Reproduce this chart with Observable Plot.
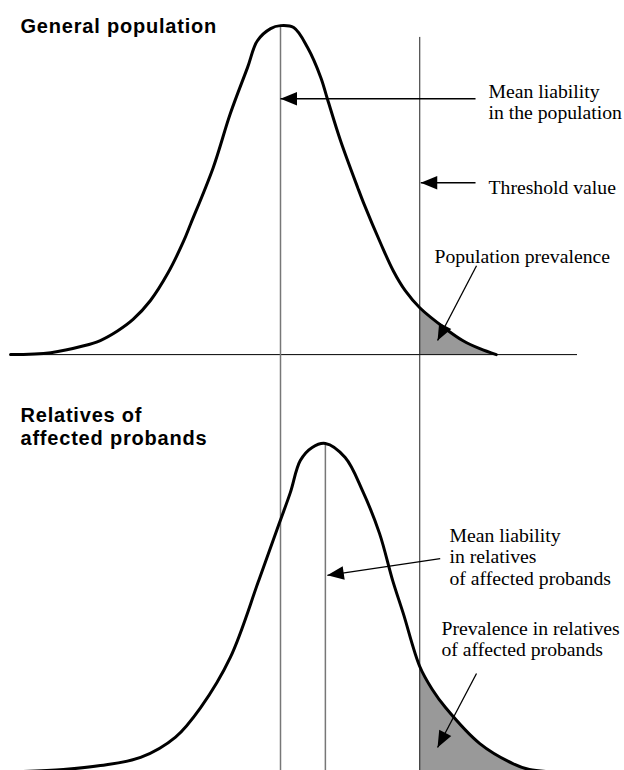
<!DOCTYPE html>
<html><head><meta charset="utf-8">
<script src="https://cdn.jsdelivr.net/npm/d3@7"></script>
<script src="https://cdn.jsdelivr.net/npm/@observablehq/plot@0.6"></script>
<style>
body{margin:0;background:#fff;}
#chart svg{display:block;background:#fff}
g[font-weight="bold"] text{letter-spacing:0.8px}
</style></head><body><div id="chart"></div>
<script>
// Liability (x, in SD units of the population) and relative density (y)
const popX = [-4.09,-3.48,-2.98,-2.73,-2.47,-2.23,-1.97,-1.71,-1.47,-1.36,-1.02,-0.76,-0.50,-0.35,-0.15,0,0.20,0.41,0.61,0.71,0.91,1.17,1.26,1.52,1.71,1.89,2.11,2.50,2.76,3.02,3.27];
const popDensity = [0,0.006,0.027,0.043,0.072,0.108,0.165,0.247,0.345,0.399,0.570,0.735,0.875,0.957,0.994,1.003,0.997,0.936,0.845,0.780,0.652,0.509,0.462,0.338,0.255,0.195,0.143,0.079,0.043,0.018,0];
const relX = [-3.9,-3.29,-2.73,-2.12,-1.59,-1.21,-0.76,-0.33,-0.02,0.15,0.30,0.48,0.68,0.98,1.24,1.50,1.70,1.86,2.11,2.30,2.50,3.02,3.52,3.77,4.02];
const relDensity = [0,0.006,0.018,0.043,0.105,0.195,0.348,0.582,0.756,0.851,0.948,0.988,1.0,0.957,0.857,0.726,0.582,0.482,0.320,0.250,0.195,0.085,0.024,0.006,0];
const popMean = 0;
const relMean = 0.68;
const threshold = 2.11;

const titles = ["General population", "Relatives of\naffected probands"];
const labels = ["Mean liability\nin the population", "Threshold value", "Population prevalence",
                "Mean liability\nin relatives\nof affected probands", "Prevalence in relatives\nof affected probands"];

// ---- layout (data units) ----
const D = 1.271; // vertical offset of the upper panel
const titleAt = [{x:-3.94, y:0.982, panel:"top"}, {x:-3.94, y:0.994, panel:"bottom"}];
const labelAt = [{x:3.152,y:0.7195,panel:"top"},{x:3.152,y:0.491,panel:"top"},{x:2.333,y:0.280,panel:"top"},
                 {x:2.561,y:0.570,panel:"bottom"},{x:2.439,y:0.351,panel:"bottom"}];
const arrowAt = [
  {x1:2.955,y1:0.780,x2:0,y2:0.780,panel:"top"},
  {x1:2.955,y1:0.524,x2:2.125,y2:0.524,panel:"top"},
  {x1:2.97,y1:0.271,x2:2.38,y2:0.043,panel:"top"},
  {x1:2.42,y1:0.649,x2:0.71,y2:0.598,panel:"bottom"},
  {x1:2.97,y1:0.299,x2:2.38,y2:0.073,panel:"bottom"}
];
const off = p => p === "top" ? D : 0;

const W = 624, H = 770;
const xDomain = [-280/66, (W-280)/66];
const yDomain = [0.00305, 0.00305 + H/328];
const sx = Plot.scale({x:{domain:xDomain, range:[0,W]}});
const sy = Plot.scale({y:{domain:yDomain, range:[H,0]}});

const pop = popX.map((x,i)=>({x, y: popDensity[i] + D}));
const rel = relX.map((x,i)=>({x, y: relDensity[i]}));
const popFill = pop.filter(d=>d.x >= threshold);
const relFill = rel.filter(d=>d.x >= threshold);

const arrows = arrowAt.map(a=>{
  const y1 = a.y1 + off(a.panel), y2 = a.y2 + off(a.panel);
  const dx = sx.apply(a.x2) - sx.apply(a.x1), dy = sy.apply(y2) - sy.apply(y1);
  return {x1:a.x1, y1, x2:a.x2, y2, angle: Math.atan2(dx, -dy)*180/Math.PI};
});
const head = {draw(ctx){ ctx.moveTo(0,0); ctx.lineTo(6.8,16.5); ctx.lineTo(-6.8,16.5); ctx.closePath(); }};

const titleData = titles.map((t,i)=>({text:t, x:titleAt[i].x, y:titleAt[i].y + off(titleAt[i].panel)}));
const labelData = labels.map((t,i)=>({text:t, x:labelAt[i].x, y:labelAt[i].y + off(labelAt[i].panel)}));

const crv = "catmull-rom";
const chart = Plot.plot({
  width: W, height: H,
  marginTop:0, marginRight:0, marginBottom:0, marginLeft:0,
  x:{domain:xDomain, axis:null},
  y:{domain:yDomain, axis:null},
  marks:[
    Plot.areaY(popFill, {x:"x", y1:D, y2:"y", fill:"#999999", curve:crv}),
    Plot.areaY(relFill, {x:"x", y1:-0.01, y2:"y", fill:"#999999", curve:crv}),
    Plot.ruleY([D], {x1:-4.09, x2:4.50, stroke:"#000", strokeWidth:1}),
    Plot.ruleX([{x:popMean, y2:D+1.003}, {x:relMean, y2:1.0}], {x:"x", y1:-0.01, y2:"y2", stroke:"#777", strokeWidth:1.5}),
    Plot.ruleX([{x:threshold, y2:2.238}], {x:"x", y1:-0.01, y2:"y2", stroke:"#222", strokeWidth:1}),
    Plot.line(pop, {x:"x", y:"y", stroke:"#000", strokeWidth:3, curve:crv}),
    Plot.line(rel, {x:"x", y:"y", stroke:"#000", strokeWidth:3, curve:crv}),
    Plot.link(arrows, {x1:"x1", y1:"y1", x2:"x2", y2:"y2", stroke:"#000", strokeWidth:1.3}),
    Plot.dot(arrows, {x:"x2", y:"y2", rotate:"angle", symbol:head, r:5, fill:"#000", stroke:null}),
    Plot.text(titleData, {x:"x", y:"y", text:"text", textAnchor:"start", lineAnchor:"bottom", lineHeight:1.15,
      fontFamily:"'Liberation Sans', Arial, sans-serif", fontWeight:"bold", fontSize:20, fill:"#000"}),
    Plot.text(labelData, {x:"x", y:"y", text:"text", textAnchor:"start", lineAnchor:"bottom", lineHeight:1.07,
      fontFamily:"'Liberation Serif', 'Times New Roman', serif", fontSize:19.7, fill:"#000"})
  ]
});
document.getElementById("chart").appendChild(chart);
</script></body></html>
